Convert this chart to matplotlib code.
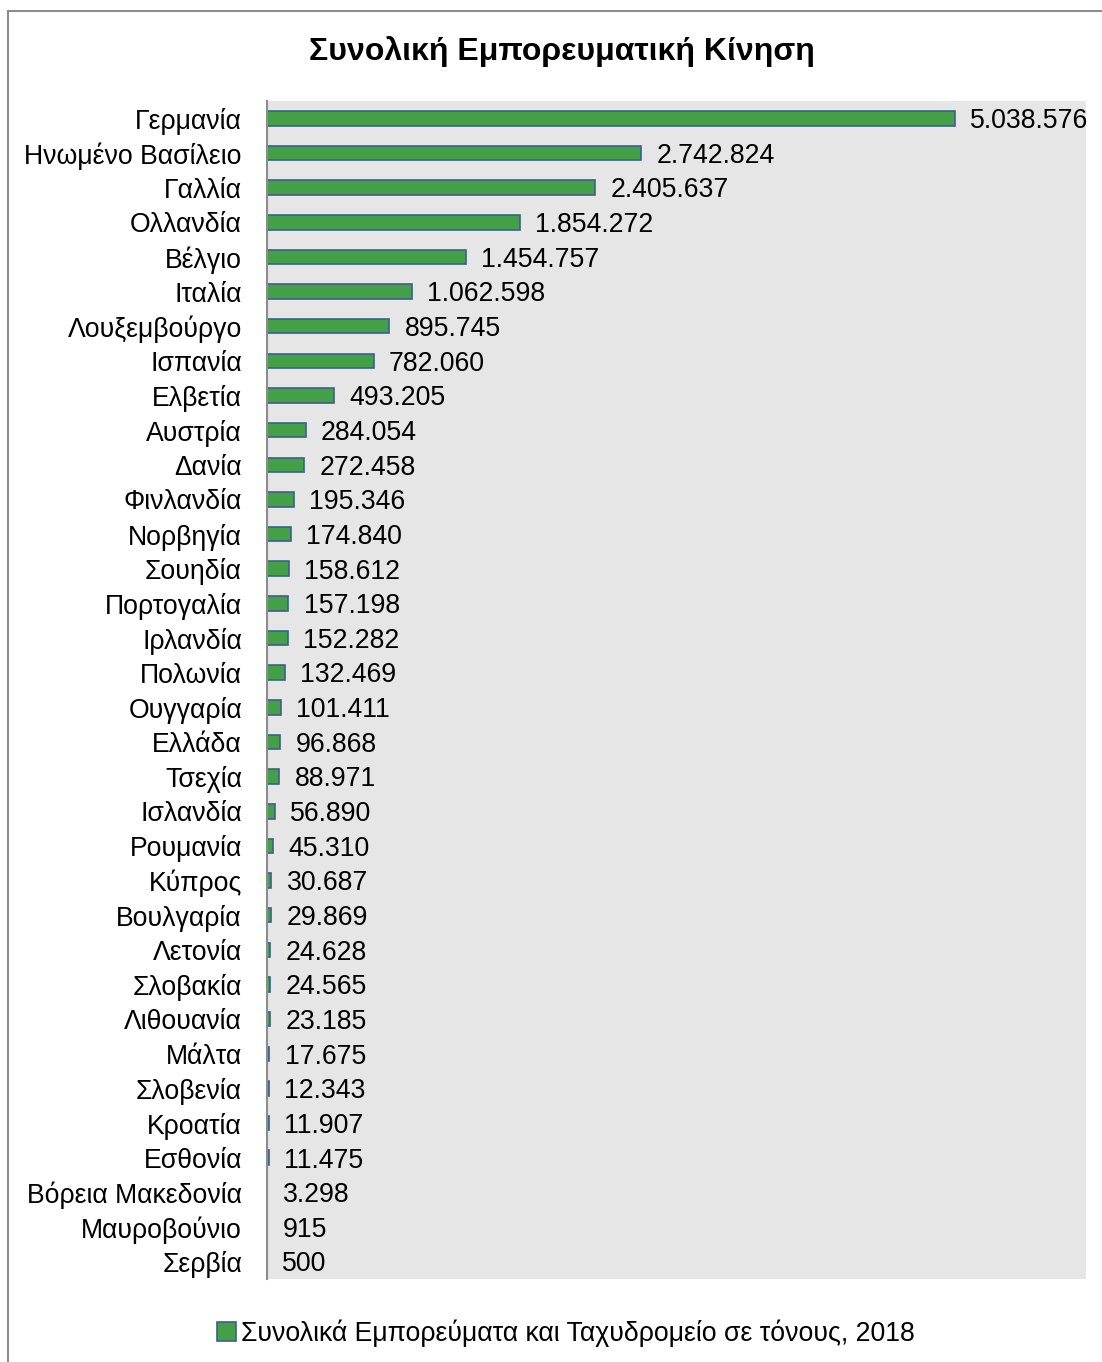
import matplotlib
matplotlib.use('Agg')
import matplotlib.pyplot as plt
from matplotlib.lines import Line2D
from matplotlib.patches import Patch

plt.rcParams['font.family'] = ['Liberation Sans', 'DejaVu Sans']

countries = ['Γερμανία', 'Ηνωμένο Βασίλειο', 'Γαλλία', 'Ολλανδία', 'Βέλγιο', 'Ιταλία',
             'Λουξεμβούργο', 'Ισπανία', 'Ελβετία', 'Αυστρία', 'Δανία', 'Φινλανδία',
             'Νορβηγία', 'Σουηδία', 'Πορτογαλία', 'Ιρλανδία', 'Πολωνία', 'Ουγγαρία',
             'Ελλάδα', 'Τσεχία', 'Ισλανδία', 'Ρουμανία', 'Κύπρος', 'Βουλγαρία',
             'Λετονία', 'Σλοβακία', 'Λιθουανία', 'Μάλτα', 'Σλοβενία', 'Κροατία',
             'Εσθονία', 'Βόρεια Μακεδονία', 'Μαυροβούνιο', 'Σερβία']
tonnes = [5038576, 2742824, 2405637, 1854272, 1454757, 1062598, 895745, 782060,
          493205, 284054, 272458, 195346, 174840, 158612, 157198, 152282, 132469,
          101411, 96868, 88971, 56890, 45310, 30687, 29869, 24628, 24565, 23185,
          17675, 12343, 11907, 11475, 3298, 915, 500]
series_name = 'Συνολικά Εμπορεύματα και Ταχυδρομείο σε τόνους, 2018'
title = 'Συνολική Εμπορευματική Κίνηση'

BAR = '#43a047'
EDGE = '#3e5f8f'
FS = 19.2

def fmt(v):
    return '{:,}'.format(v).replace(',', '.')

fig = plt.figure(figsize=(11.02, 13.62), dpi=100)
W, H = 1102, 1362
ax = fig.add_axes([267 / W, 1 - 1279 / H, (1086 - 267) / W, (1279 - 101) / H])
ax.set_facecolor('#e6e6e6')

n = len(countries)
ypos = list(range(n))
ax.barh(ypos, tonnes, height=0.42, color=BAR, edgecolor=EDGE, linewidth=1.2)
ax.set_ylim(n - 0.5, -0.5)
ax.set_xlim(0, 6000000)
ax.set_yticks(ypos)
ax.set_yticklabels(countries, fontsize=FS)
ax.set_xticks([])
ax.tick_params(axis='y', length=0, pad=18)
for s in ['top', 'right', 'bottom']:
    ax.spines[s].set_visible(False)
ax.spines['left'].set_color('#8c8c8c')
ax.spines['left'].set_linewidth(1.5)

for y, v in zip(ypos, tonnes):
    ax.annotate(fmt(v), (v, y), xytext=(11, -2), textcoords='offset points',
                va='center', ha='left', fontsize=FS)

fig.text(562 / W, 1 - 52 / H, title, fontsize=23, fontweight='bold',
         ha='center', va='center')

handle = Patch(facecolor=BAR, edgecolor=EDGE, linewidth=1.2)
fig.legend([handle], [series_name], loc='center', bbox_to_anchor=(566 / W, 1 - 1333 / H),
           frameon=False, fontsize=FS, handlelength=0.7, handleheight=0.7,
           handletextpad=0.2)

# outer border (only top and left are visible in the original)
fig.add_artist(Line2D([8 / W, 1], [1 - 11 / H, 1 - 11 / H], color='#8c8c8c', lw=1.5))
fig.add_artist(Line2D([8 / W, 8 / W], [0, 1 - 11 / H], color='#8c8c8c', lw=1.5))

fig.savefig('out.png', dpi=100)
